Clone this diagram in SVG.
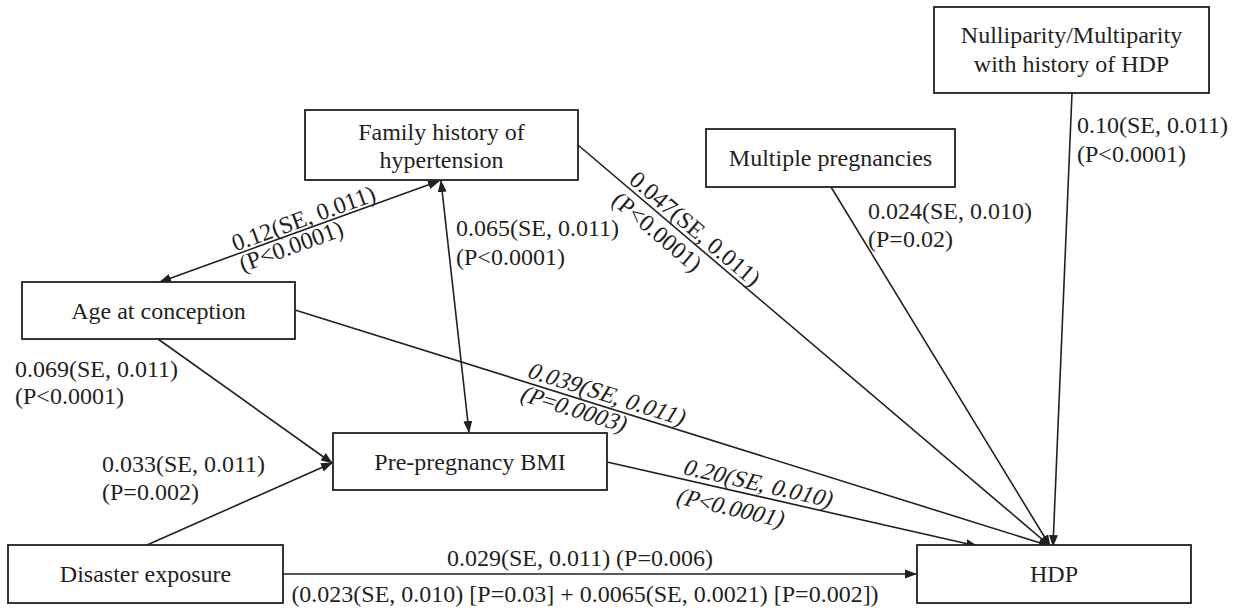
<svg xmlns="http://www.w3.org/2000/svg" width="1241" height="610" viewBox="0 0 1241 610">
<style>
.box{fill:#fff;stroke:#231f20;stroke-width:1.8}
.nt{font-family:"Liberation Serif","Times New Roman",serif;font-size:24px;fill:#231f20;text-anchor:middle}
.lb{font-family:"Liberation Serif","Times New Roman",serif;font-size:24px;fill:#231f20}
.ln{fill:none;stroke:#231f20;stroke-width:1.6}
</style>
<defs>
<marker id="ah" markerUnits="userSpaceOnUse" markerWidth="12" markerHeight="10" refX="11" refY="4.5" orient="auto-start-reverse" viewBox="0 0 12 9">
<path d="M0,0 L12,4.5 L0,9 z" fill="#231f20"/>
</marker>
</defs>
<rect width="1241" height="610" fill="#fff"/>
<g id="connectors">
<line class="ln" x1="439" y1="181" x2="160" y2="282" marker-start="url(#ah)" marker-end="url(#ah)"/>
<line class="ln" x1="441" y1="181" x2="469" y2="432" marker-start="url(#ah)" marker-end="url(#ah)"/>
<line class="ln" x1="578" y1="145" x2="1050" y2="546" marker-end="url(#ah)"/>
<line class="ln" x1="831" y1="187" x2="1050" y2="546" marker-end="url(#ah)"/>
<line class="ln" x1="1072" y1="93" x2="1053" y2="546" marker-end="url(#ah)"/>
<line class="ln" x1="295" y1="310" x2="1050" y2="546" marker-end="url(#ah)"/>
<line class="ln" x1="607" y1="462" x2="977" y2="546" marker-end="url(#ah)"/>
<line class="ln" x1="158" y1="339" x2="332" y2="463" marker-end="url(#ah)"/>
<line class="ln" x1="147" y1="545" x2="332" y2="463" marker-end="url(#ah)"/>
<line class="ln" x1="283" y1="574" x2="916" y2="574" marker-end="url(#ah)"/>
<g transform="translate(160,282) rotate(-19.9)">
<text class="lb" x="81" y="-3">0.12(SE, 0.011)</text>
<text class="lb" x="81" y="19">(P&lt;0.0001)</text>
</g>
<g transform="translate(578,145) rotate(40.35)">
<text class="lb" x="62" y="-4">0.047(SE, 0.011)</text>
<text class="lb" x="62" y="23">(P&lt;0.0001)</text>
</g>
<g transform="translate(295,310) rotate(17.36)">
<text class="lb" transform="translate(240,-5) skewX(-14)">0.039(SE, 0.011)</text>
<text class="lb" transform="translate(240,19) skewX(-14)">(P=0.0003)</text>
</g>
<g transform="translate(607,462) rotate(12.79)">
<text class="lb" transform="translate(75,-5) skewX(-14)">0.20(SE, 0.010)</text>
<text class="lb" transform="translate(75,25) skewX(-14)">(P&lt;0.0001)</text>
</g>
<text class="lb" x="456" y="236">0.065(SE, 0.011)</text>
<text class="lb" x="456" y="265">(P&lt;0.0001)</text>
<text class="lb" x="868" y="219">0.024(SE, 0.010)</text>
<text class="lb" x="868" y="247">(P=0.02)</text>
<text class="lb" x="1077" y="133">0.10(SE, 0.011)</text>
<text class="lb" x="1077" y="162">(P&lt;0.0001)</text>
<text class="lb" x="15" y="377">0.069(SE, 0.011)</text>
<text class="lb" x="15" y="404">(P&lt;0.0001)</text>
<text class="lb" x="102" y="472">0.033(SE, 0.011)</text>
<text class="lb" x="102" y="500">(P=0.002)</text>
<text class="lb" x="580" y="566" text-anchor="middle">0.029(SE, 0.011) (P=0.006)</text>
<text class="lb" x="585" y="602" text-anchor="middle">(0.023(SE, 0.010) [P=0.03] + 0.0065(SE, 0.0021) [P=0.002])</text>
</g>
<g id="node-nulliparity">
<rect class="box" x="934" y="7" width="275" height="86"/>
<text class="nt" x="1071.5" y="43">Nulliparity/Multiparity</text>
<text class="nt" x="1071.5" y="72">with history of HDP</text>
</g>
<g id="node-family">
<rect class="box" x="305" y="110" width="273" height="70"/>
<text class="nt" x="441.5" y="140">Family history of</text>
<text class="nt" x="441.5" y="168">hypertension</text>
</g>
<g id="node-multiple">
<rect class="box" x="706" y="129" width="249" height="58"/>
<text class="nt" x="830.5" y="166">Multiple pregnancies</text>
</g>
<g id="node-age">
<rect class="box" x="22" y="282" width="273" height="57"/>
<text class="nt" x="158.5" y="319">Age at conception</text>
</g>
<g id="node-bmi">
<rect class="box" x="333" y="433" width="274" height="57"/>
<text class="nt" x="470" y="470">Pre-pregnancy BMI</text>
</g>
<g id="node-disaster">
<rect class="box" x="8" y="545" width="275" height="58"/>
<text class="nt" x="145.5" y="582">Disaster exposure</text>
</g>
<g id="node-hdp">
<rect class="box" x="917" y="545" width="274" height="58"/>
<text class="nt" x="1054" y="582">HDP</text>
</g>
</svg>
